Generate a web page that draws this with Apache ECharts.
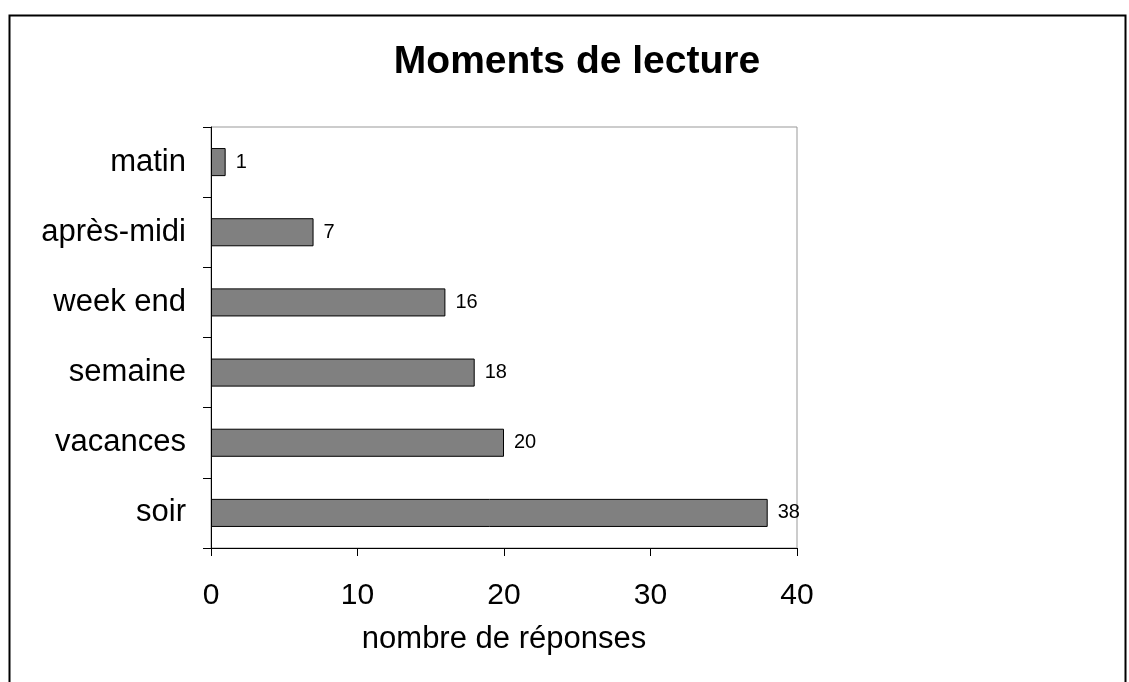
<!DOCTYPE html>
<html><head><meta charset="utf-8">
<script src="https://cdn.jsdelivr.net/npm/echarts@6/dist/echarts.min.js"></script>
<style>html,body{margin:0;padding:0;background:#fff}#c{width:1129px;height:682px}</style>
</head><body><div id="c"></div>
<script>
const categories = ['matin', 'après-midi', 'week end', 'semaine', 'vacances', 'soir'];
const values = [1, 7, 16, 18, 20, 38];
const xTicks = [0, 10, 20, 30, 40];
const titleText = 'Moments de lecture';
const xName = 'nombre de réponses';

const chart = echarts.init(document.getElementById('c'), null, {renderer: 'canvas'});
const font = '"Liberation Sans", Arial, sans-serif';
chart.setOption({
  animation: false,
  backgroundColor: '#fff',
  title: {
    text: titleText, left: 572, top: 38, textAlign: 'center',
    textStyle: {fontFamily: font, fontSize: 39, fontWeight: 'bold', color: '#000'}
  },
  graphic: [{
    type: 'rect', shape: {x: 9.5, y: 15.5, width: 1116, height: 700},
    style: {fill: 'none', stroke: '#000', lineWidth: 2}, silent: true
  }],
  grid: {left: 211, top: 127, width: 586, height: 421, show: true, borderColor: '#999', borderWidth: 1, containLabel: false},
  xAxis: {
    type: 'value', min: xTicks[0], max: xTicks[xTicks.length - 1], interval: 10,
    name: xName, nameLocation: 'middle', nameGap: 76,
    nameTextStyle: {fontFamily: font, fontSize: 31, color: '#000'},
    axisLine: {show: true, lineStyle: {color: '#000', width: 1}},
    axisTick: {show: true, length: 8, lineStyle: {color: '#000'}},
    axisLabel: {fontFamily: font, fontSize: 30, color: '#000', margin: 33},
    splitLine: {show: false}
  },
  yAxis: {
    type: 'category', data: categories, inverse: true,
    axisLine: {show: true, lineStyle: {color: '#000', width: 1}},
    axisTick: {show: true, length: 8, lineStyle: {color: '#000'}},
    axisLabel: {fontFamily: font, fontSize: 31, color: '#000', margin: 25}
  },
  series: [{
    type: 'bar', data: values, barCategoryGap: '60%',
    itemStyle: {color: '#808080', borderColor: '#000', borderWidth: 1},
    label: {show: true, position: 'right', distance: 10, fontFamily: font, fontSize: 20, color: '#000'}
  }]
});
</script></body></html>
